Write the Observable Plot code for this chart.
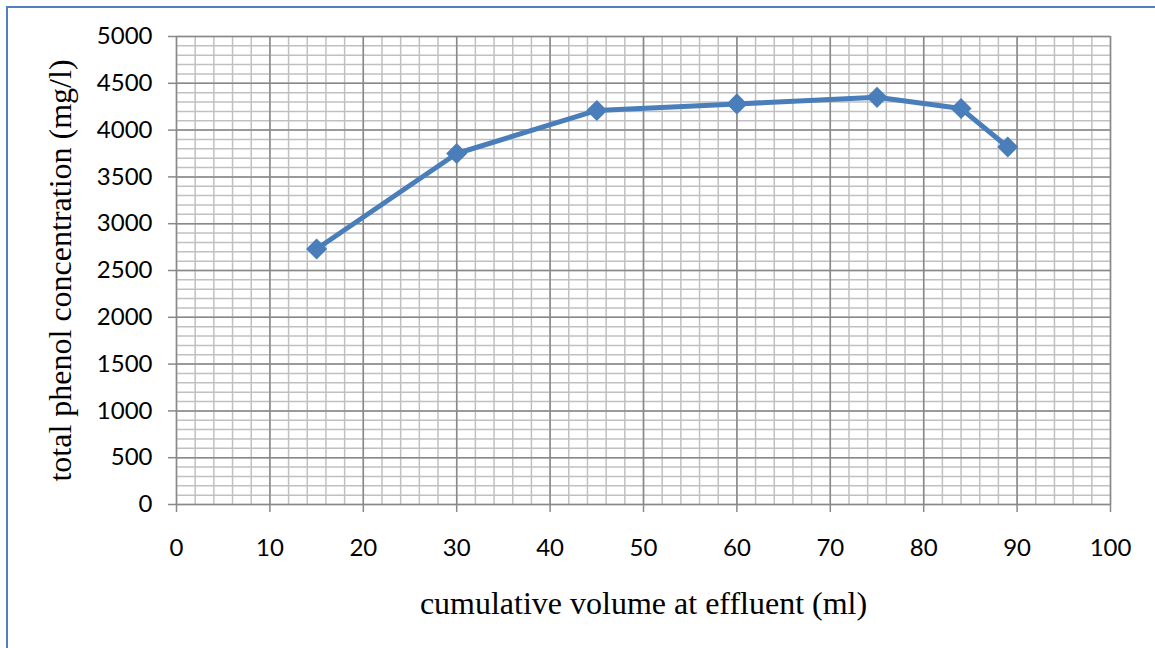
<!DOCTYPE html>
<html>
<head>
<meta charset="utf-8">
<script src="https://cdn.jsdelivr.net/npm/d3@7"></script>
<script src="https://cdn.jsdelivr.net/npm/@observablehq/plot@0.6"></script>
<style>
  html, body { margin: 0; padding: 0; background: #fff; }
  #wrap { position: relative; width: 1155px; height: 648px; overflow: hidden; }
  #border { position: absolute; left: 6px; top: 6px; width: 1200px; height: 700px;
            border-left: 2px solid #4f81bd; border-top: 2px solid #4f81bd; pointer-events: none; }
  #chart { position: absolute; left: 0; top: 0; }
</style>
</head>
<body>
<div id="wrap">
  <div id="chart"></div>
  <div id="border"></div>
</div>
<script>
// Data
const volume = [15, 30, 45, 60, 75, 84, 89];            // cumulative volume at effluent (ml)
const phenol = [2730, 3750, 4210, 4280, 4350, 4230, 3820]; // total phenol concentration (mg/l)

// Axis ticks
const xTicks = [0, 10, 20, 30, 40, 50, 60, 70, 80, 90, 100];
const yTicks = [0, 500, 1000, 1500, 2000, 2500, 3000, 3500, 4000, 4500, 5000];
const xMinorStep = 2;
const yMinorStep = 100;

const xLabel = "cumulative volume at effluent (ml)";
const yLabel = "total phenol concentration (mg/l)";

const data = volume.map((v, i) => ({volume: v, phenol: phenol[i]}));
const xMinor = d3.range(0, 100 + xMinorStep / 2, xMinorStep);
const yMinor = d3.range(0, 5000 + yMinorStep / 2, yMinorStep);

const lineColor = "#4a7ebb";
const majorGrid = "#888888";
const minorGrid = "#c0c0c0";

const chart = Plot.plot({
  width: 1155,
  height: 648,
  marginLeft: 176,
  marginRight: 45,
  marginTop: 36,
  marginBottom: 144,
  style: {background: "transparent", overflow: "visible"},
  x: {domain: [0, 100]},
  y: {domain: [0, 5000]},
  marks: [
    Plot.ruleX(xMinor, {stroke: minorGrid, strokeWidth: 1.5}),
    Plot.ruleY(yMinor, {stroke: minorGrid, strokeWidth: 1.5}),
    Plot.ruleX(xTicks, {stroke: majorGrid, strokeWidth: 1.5}),
    Plot.ruleY(yTicks, {stroke: majorGrid, strokeWidth: 1.5}),
    Plot.axisX({
      ticks: xTicks, tickSize: 8, tickPadding: 26, label: null,
      fontSize: 24, fontFamily: "Lato", stroke: majorGrid, strokeWidth: 1.5,
      fill: "#000", tickFormat: d => String(d)
    }),
    Plot.axisY({
      ticks: yTicks, tickSize: 8, tickPadding: 16, label: null,
      fontSize: 24, fontFamily: "Lato", stroke: majorGrid, strokeWidth: 1.5,
      fill: "#000", tickFormat: d => String(d)
    }),
    Plot.line(data, {x: "volume", y: "phenol", stroke: lineColor, strokeWidth: 5, strokeLinejoin: "round"}),
    Plot.dot(data, {x: "volume", y: "phenol", symbol: "diamond2", r: 9.5, fill: lineColor, stroke: null}),
    Plot.text([xLabel], {
      frameAnchor: "bottom", dy: 99, text: d => d, fontSize: 32,
      fontFamily: "Liberation Serif", fill: "#000", lineAnchor: "middle", textAnchor: "middle"
    }),
    Plot.text([yLabel], {
      frameAnchor: "left", dx: -116, rotate: -90, text: d => d, fontSize: 32,
      fontFamily: "Liberation Serif", fill: "#000", lineAnchor: "middle", textAnchor: "middle"
    })
  ]
});
document.getElementById("chart").appendChild(chart);
</script>
</body>
</html>
